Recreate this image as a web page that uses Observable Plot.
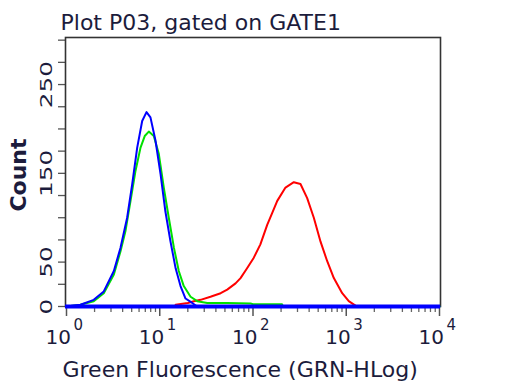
<!DOCTYPE html>
<html><head><meta charset="utf-8">
<script src="https://cdn.jsdelivr.net/npm/d3@7"></script>
<script src="https://cdn.jsdelivr.net/npm/@observablehq/plot@0.6"></script>
<style>body{margin:0;background:#fff} svg{display:block}</style>
</head><body><div id="chart"></div>
<script>
const titleText = "Plot P03, gated on GATE1";
const xLabelText = "Green Fluorescence (GRN-HLog)";
const yLabelText = "Count";

const blueX = [1, 1.41, 1.96, 2.51, 3.22, 3.79, 4.47, 5.07, 5.73, 6.48, 7.21, 7.95, 9.0, 10.2, 11.5, 13.0, 14.8, 16.7, 18.9, 22.3, 25.2, 10000];
const blueY = [0, 2, 7.5, 17, 40, 66, 100, 138, 179, 209, 219, 213, 187, 149, 107, 74, 43, 23, 9, 4, 0, 0];

const greenX = [1, 1.41, 1.96, 2.51, 3.22, 3.79, 4.29, 4.86, 5.5, 6.22, 6.9, 7.63, 8.63, 9.77, 11.05, 12.5, 14.2, 16.0, 18.1, 21.4, 25.2, 32.3, 52.9, 94, 100, 205, 210, 10000];
const greenY = [0, 2, 6, 15, 36, 62, 85, 119, 153, 179, 192, 197, 192, 172, 134, 100, 66, 40, 23, 11, 6, 4, 4, 3.5, 2.5, 2.5, 0, 0];

const redX = [14.8, 20, 23.2, 27.4, 35, 45, 52.9, 65, 73.5, 85, 102, 120, 142, 160, 182, 223, 274, 323, 381, 449, 530, 625, 736, 905, 1064, 1257, 1350];
const redY = [2, 4, 6, 7.5, 11, 15, 19, 26, 32, 42, 55, 70, 92, 105, 119, 134, 140, 138, 122, 100, 73, 51, 32, 15, 6, 1, 0];

const xMajor = [1, 10, 100, 1000, 10000];
const xExp = ["0", "1", "2", "3", "4"];
const xMinor = [2,3,4,5,6,7,8,9,20,30,40,50,60,70,80,90,200,300,400,500,600,700,800,900,2000,3000,4000,5000,6000,7000,8000,9000];
const yTicks = [0,25,50,75,100,125,150,175,200,225,250,275,300];
const yLabels = [0, 50, 150, 250];

const rows = (xs, ys) => xs.map((x, i) => ({x, y: ys[i]}));
const txt = "#1c1c3c";

const chart = Plot.plot({
  width: 512, height: 384,
  marginLeft: 65, marginRight: 72, marginTop: 37, marginBottom: 78,
  style: {background: "#fff", fontFamily: "DejaVu Sans", color: "#333"},
  x: {type: "log", domain: [1, 10000], range: [66, 439], axis: null, label: null},
  y: {domain: [0, 303], axis: null, label: null},
  marks: [
    Plot.axisY(yTicks, {anchor: "left", tickSize: 7, fill: "none", tickFormat: () => "", label: null, stroke: "#555", strokeWidth: 1.3}),
    Plot.axisX(xMajor, {anchor: "bottom", tickSize: 10, fill: "none", tickFormat: () => "", label: null, stroke: "#555", strokeWidth: 1.5}),
    Plot.axisX(xMinor, {anchor: "bottom", tickSize: 6, fill: "none", tickFormat: () => "", label: null, stroke: "#666", strokeWidth: 1.3}),
    Plot.frame({stroke: "#333", strokeWidth: 1.6}),
    Plot.line(rows(redX, redY), {x: "x", y: "y", stroke: "#ff0000", strokeWidth: 2}),
    Plot.line(rows(greenX, greenY), {x: "x", y: "y", stroke: "#00e000", strokeWidth: 2}),
    Plot.ruleY([0], {stroke: "#0000ff", strokeWidth: 4}),
    Plot.line(rows(blueX, blueY), {x: "x", y: "y", stroke: "#0000ff", strokeWidth: 2}),
    Plot.text(yLabels, {y: d => d, text: d => String(d), frameAnchor: "left", dx: -19, rotate: -90, fontSize: 16, fill: txt, textAnchor: "middle", lineAnchor: "middle"}),
    Plot.text(xMajor, {x: d => d, text: () => "10", frameAnchor: "bottom", textAnchor: "end", lineAnchor: "middle", dx: 4.5, dy: 30.6, fontSize: 20, fill: txt}),
    Plot.text(xMajor, {x: d => d, text: (d, i) => xExp[i], frameAnchor: "bottom", textAnchor: "start", lineAnchor: "middle", dx: 7, dy: 19, fontSize: 15, fill: txt}),
    Plot.text([titleText], {text: d => d, frameAnchor: "top-left", textAnchor: "start", lineAnchor: "middle", dx: -5, dy: -15, fontSize: 22, fill: txt}),
    Plot.text([xLabelText], {text: d => d, frameAnchor: "bottom-left", textAnchor: "start", lineAnchor: "middle", dx: -3, dy: 63, fontSize: 22, fill: txt}),
    Plot.text([yLabelText], {text: d => d, frameAnchor: "left", textAnchor: "middle", lineAnchor: "middle", rotate: -90, dx: -47, dy: 3, fontSize: 22, fontWeight: "bold", fill: txt})
  ]
});
const labelSet = new Set(yLabels.map(String));
d3.select(chart).selectAll("text").each(function() {
  const t = this.getAttribute("transform") || "";
  if (t.includes("rotate") && labelSet.has(this.textContent)) {
    this.setAttribute("transform", t + " scale(1.55,1)");
  }
});
document.getElementById("chart").appendChild(chart);
</script>
</body></html>
